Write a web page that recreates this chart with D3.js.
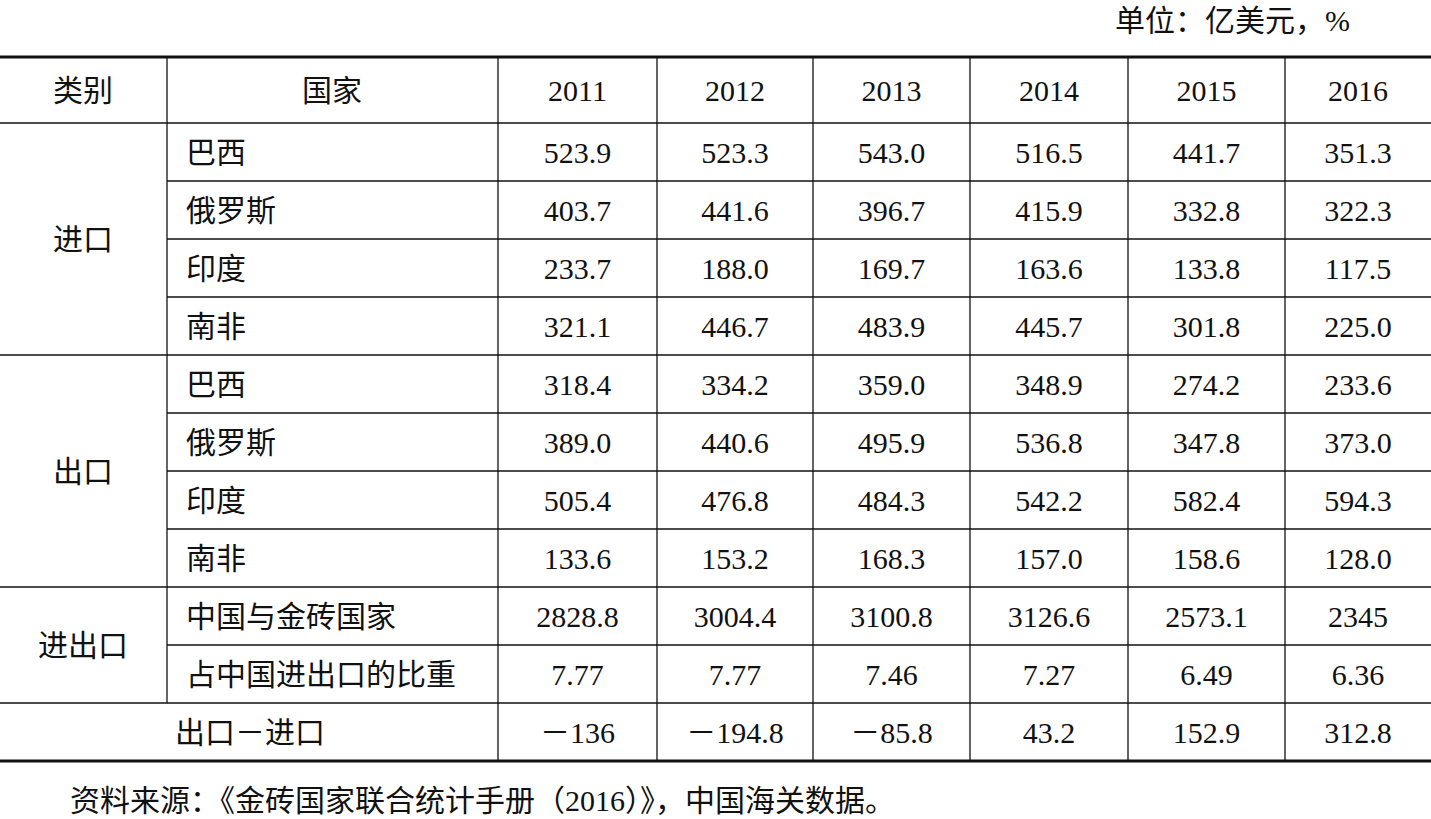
<!DOCTYPE html>
<html><head><meta charset="utf-8">
<script src="https://cdn.jsdelivr.net/npm/d3@7"></script>
<style>body{margin:0;background:#fff}</style>
</head><body><svg id="t" width="1431" height="819"></svg>
<script>
var years = ["2011","2012","2013","2014","2015","2016"];
var groups = [
  {name: "进口", rows: ["巴西","俄罗斯","印度","南非"]},
  {name: "出口", rows: ["巴西","俄罗斯","印度","南非"]},
  {name: "进出口", rows: ["中国与金砖国家","占中国进出口的比重"]}
];
var values = [
  ["523.9","523.3","543.0","516.5","441.7","351.3"],
  ["403.7","441.6","396.7","415.9","332.8","322.3"],
  ["233.7","188.0","169.7","163.6","133.8","117.5"],
  ["321.1","446.7","483.9","445.7","301.8","225.0"],
  ["318.4","334.2","359.0","348.9","274.2","233.6"],
  ["389.0","440.6","495.9","536.8","347.8","373.0"],
  ["505.4","476.8","484.3","542.2","582.4","594.3"],
  ["133.6","153.2","168.3","157.0","158.6","128.0"],
  ["2828.8","3004.4","3100.8","3126.6","2573.1","2345"],
  ["7.77","7.77","7.46","7.27","6.49","6.36"]
];
var diffLabel = "出口－进口";
var diffValues = ["－136","－194.8","－85.8","43.2","152.9","312.8"];
var unitText = "单位：亿美元，%";
var sourceText = "资料来源：《金砖国家联合统计手册（2016）》，中国海关数据。";

var svg = d3.select("#t");
var font = "'Liberation Serif','Noto Sans CJK SC',serif";
var colX = [0,167,498,657,813,970,1128,1285,1431];
var top0 = 57, headH = 66, rowH = 58;
var nRows = values.length + 1;
var y = function(i){ return top0 + headH + i*rowH; };
var bottom = y(nRows);

function txt(x, yy, s, anchor){
  svg.append("text").attr("x", x).attr("y", yy).attr("text-anchor", anchor||"middle")
    .attr("dominant-baseline","central").attr("font-family", font).attr("font-size", 30)
    .attr("fill","#111").text(s);
}
function line(x1,y1,x2,y2,w){
  svg.append("line").attr("x1",x1).attr("y1",y1).attr("x2",x2).attr("y2",y2)
    .attr("stroke","#111").attr("stroke-width",w);
}

txt(1350, 20, unitText, "end");
txt(70, 800, sourceText, "start");

// header
var hy = top0 + headH/2;
txt(83, hy, "类别");
txt(332, hy, "国家");
years.forEach(function(yr,i){ txt((colX[i+2]+colX[i+3])/2, hy, yr); });

// body
var r = 0;
groups.forEach(function(g){
  txt(83, y(r) + g.rows.length*rowH/2, g.name);
  g.rows.forEach(function(name, k){
    var cy = y(r) + rowH/2;
    txt(186, cy, name, "start");
    values[r].forEach(function(v,i){ txt((colX[i+2]+colX[i+3])/2, cy, v); });
    if (k > 0) line(colX[1], y(r), colX[8], y(r), 1.3);
    r++;
  });
  line(0, y(r), 1431, y(r), 1.3);
});
var dy = y(r) + rowH/2;
txt(250, dy, diffLabel);
diffValues.forEach(function(v,i){ txt((colX[i+2]+colX[i+3])/2, dy, v); });

// frame lines
line(0, top0, 1431, top0, 3);
line(0, top0+headH, 1431, top0+headH, 1.3);
line(0, bottom, 1431, bottom, 3);
line(colX[1], top0, colX[1], y(values.length), 1.3);
for (var i = 2; i < 8; i++) line(colX[i], top0, colX[i], bottom, 1.3);
</script></body></html>
